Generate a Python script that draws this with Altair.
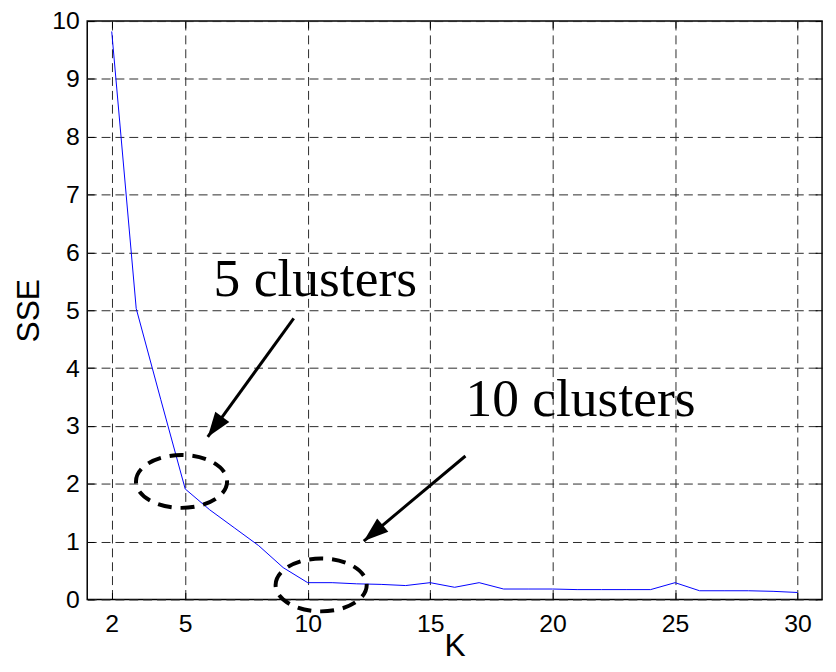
import altair as alt
import pandas as pd

# ---- data ----
k_values = list(range(2, 31))
sse_values = [9.82, 5.03, 3.46, 1.91, 1.55, 1.24, 0.93, 0.55, 0.29, 0.29,
              0.27, 0.26, 0.24, 0.29, 0.21, 0.29, 0.18, 0.18, 0.18, 0.17,
              0.17, 0.17, 0.17, 0.29, 0.15, 0.15, 0.15, 0.14, 0.12]
x_ticks = [2, 5, 10, 15, 20, 25, 30]
y_ticks = list(range(0, 11))

label_text = ["5 clusters", "10 clusters"]
label_x = [6.16, 16.44]
label_y = [5.24, 3.18]

ellipse_x = [4.85, 10.55]
ellipse_y = [2.04, 0.25]

arrow_x = [9.43, 16.44]
arrow_y = [4.86, 2.48]
arrow_tip_x = [5.92, 12.29]
arrow_tip_y = [2.81, 1.01]
arrow_angle = [216, 230]

df = pd.DataFrame({"k": k_values, "sse": sse_values})
labels = pd.DataFrame({"text": label_text, "x": label_x, "y": label_y})
ellipses = pd.DataFrame({"x": ellipse_x, "y": ellipse_y})
arrows = pd.DataFrame({"x": arrow_x, "y": arrow_y, "x2": arrow_tip_x,
                       "y2": arrow_tip_y, "angle": arrow_angle})

W, H = 742, 584
xs = alt.Scale(domain=[1, 31], nice=False, zero=False)
ys = alt.Scale(domain=[0, 10], nice=False, zero=False)

line = alt.Chart(df).mark_line(color="#0000ff", strokeWidth=1).encode(
    x=alt.X("k:Q", scale=xs, axis=alt.Axis(
        values=x_ticks, title="K", grid=True, labelPadding=12,
        titleX=W / 2, titleY=57, titleBaseline="alphabetic", titleAlign="center")),
    y=alt.Y("sse:Q", scale=ys, axis=alt.Axis(
        values=y_ticks, title="SSE", grid=True, labelPadding=8,
        titleX=-59, titleY=H / 2, titleAngle=270, titleBaseline="middle",
        titleAlign="center")),
)

tick_axis = dict(labels=False, grid=False, domain=False, tickSize=7,
                 tickColor="black", tickWidth=1, title=None, offset=-7)

ticks_bl = alt.Chart(df).mark_point(opacity=0).encode(
    x=alt.X("k:Q", scale=xs, axis=alt.Axis(values=x_ticks, orient="bottom", **tick_axis)),
    y=alt.Y("sse:Q", scale=ys, axis=alt.Axis(values=y_ticks, orient="left", **tick_axis)),
)
ticks_tr = alt.Chart(df).mark_point(opacity=0).encode(
    x=alt.X("k:Q", scale=xs, axis=alt.Axis(values=x_ticks, orient="top", **tick_axis)),
    y=alt.Y("sse:Q", scale=ys, axis=alt.Axis(values=y_ticks, orient="right", **tick_axis)),
)

text = alt.Chart(labels).mark_text(
    font="Liberation Serif", fontSize=54, align="left", baseline="alphabetic",
    color="black").encode(
    x=alt.X("x:Q", scale=xs, axis=None),
    y=alt.Y("y:Q", scale=ys, axis=None),
    text="text:N",
)

ellipse_path = "M -1 0 A 1 0.58 0 1 1 1 0 A 1 0.58 0 1 1 -1 0"
ell = alt.Chart(ellipses).mark_point(
    shape=ellipse_path, size=92 * 92, filled=False, color="black",
    strokeWidth=4, strokeDash=[14, 9], opacity=1).encode(
    x=alt.X("x:Q", scale=xs, axis=None),
    y=alt.Y("y:Q", scale=ys, axis=None),
)

shaft = alt.Chart(arrows).mark_rule(color="black", strokeWidth=3).encode(
    x=alt.X("x:Q", scale=xs, axis=None),
    y=alt.Y("y:Q", scale=ys, axis=None),
    x2="x2:Q",
    y2="y2:Q",
)

head = alt.Chart(arrows).mark_point(
    shape="M 0 0 L 0.7 2 L -0.7 2 Z", size=625, filled=True, color="black",
    opacity=1, strokeWidth=0).encode(
    x=alt.X("x2:Q", scale=xs, axis=None),
    y=alt.Y("y2:Q", scale=ys, axis=None),
    angle=alt.Angle("angle:Q", scale=None),
)

chart = alt.layer(line, ticks_bl, ticks_tr, ell, shaft, head, text).resolve_axis(
    x="independent", y="independent"
).properties(
    width=W, height=H,
    padding={"left": 80, "top": 10, "right": 6, "bottom": 62},
    autosize=alt.AutoSizeParams(type="none"),
).configure_axis(
    labelFont="Liberation Sans", labelFontSize=25, labelColor="black",
    titleFont="Liberation Sans", titleFontSize=32, titleFontWeight="normal",
    titleColor="black", gridColor="#2a2a2a", gridDash=[9, 5], gridWidth=1,
    gridOpacity=1, tickSize=0, domain=False,
).configure_view(stroke="black", strokeWidth=1.5)

chart.save("out.html", embed_options={"renderer": "svg", "actions": False})
